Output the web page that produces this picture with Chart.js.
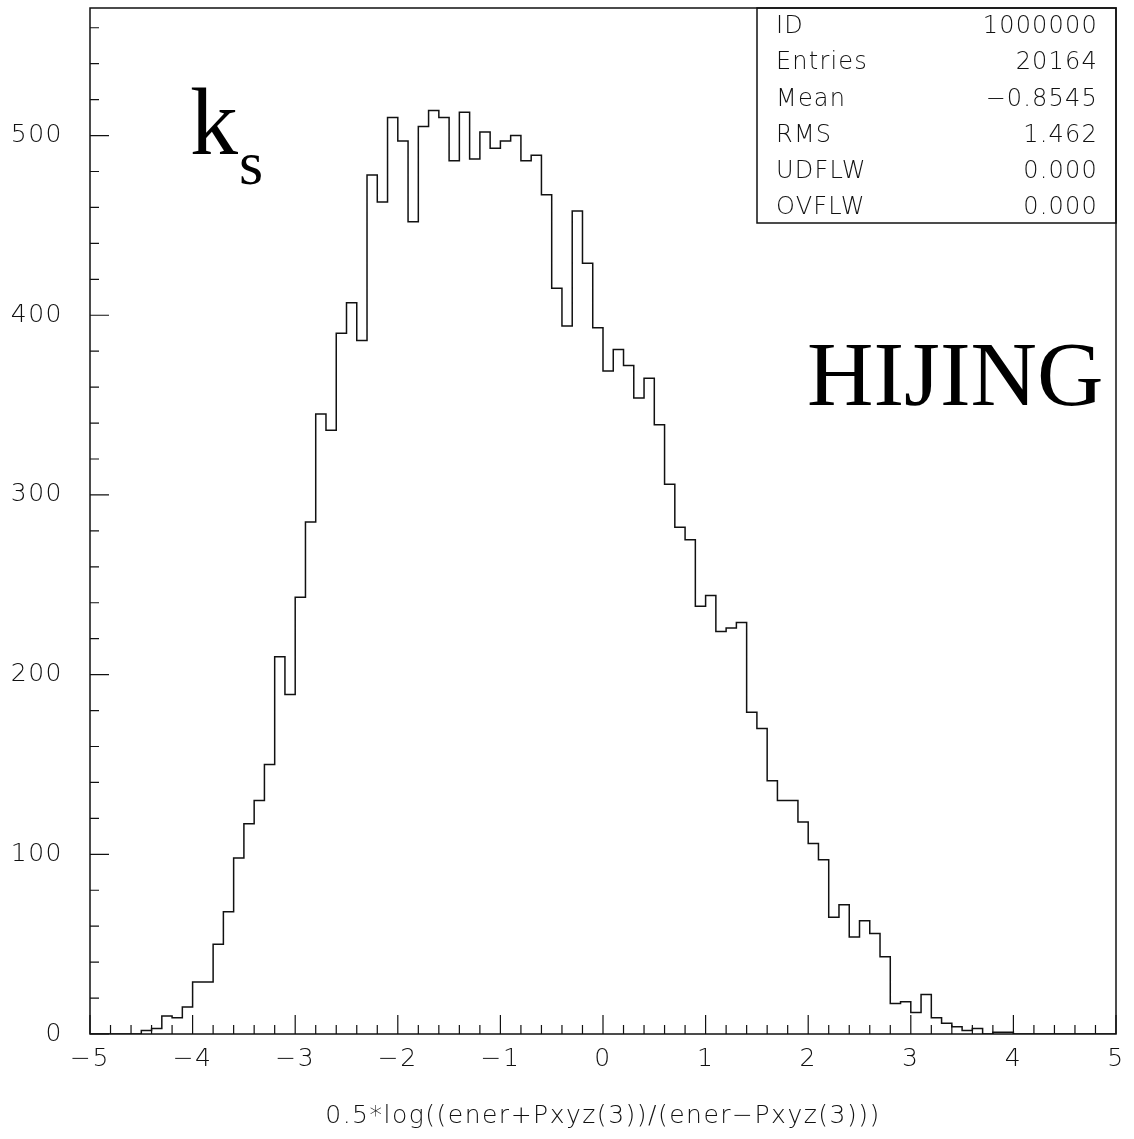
<!DOCTYPE html>
<html>
<head>
<meta charset="utf-8">
<script src="https://cdn.jsdelivr.net/npm/chart.js@4.4.0/dist/chart.umd.min.js"></script>
<style>
  html, body { margin: 0; padding: 0; background: #fff; }
  #wrap { width: 1134px; height: 1139px; }
</style>
</head>
<body>
<div id="wrap"><canvas id="histo" width="1134" height="1139"></canvas></div>
<script>
// histogram definition: 100 bins from -5 to 5
const binLow = -5;
const binWidth = 0.1;
const counts = [
  0, 0, 0, 0, 0,
  2, 3, 10, 9, 15, 29, 29, 50, 68, 98, 117, 130, 150,
  210, 189, 243, 285, 345, 336, 390, 407, 386,
  478, 463, 510, 497, 452, 505, 514, 510, 486, 513, 487, 502, 493, 497, 500, 486, 489, 467,
  415, 394, 458, 429, 393, 369, 381, 372, 354, 365, 339, 306, 282, 275,
  238, 244, 224, 226, 229, 179, 170, 141, 130, 130, 118, 106, 97,
  65, 72, 54, 63, 56, 43, 17, 18, 12, 22, 9, 6, 4, 2, 3, 0, 1, 1,
  0, 0, 0, 0, 0, 0, 0, 0, 0, 0
];
const xTicks = [-5, -4, -3, -2, -1, 0, 1, 2, 3, 4, 5];
const yTicks = [0, 100, 200, 300, 400, 500];
const yMax = 571;
const statLabels = ['ID', 'Entries', 'Mean', 'RMS', 'UDFLW', 'OVFLW'];
const statValues = ['1000000', '20164', '\u22120.8545', '1.462', '0.000', '0.000'];
const xTitle = '0.5*log((ener+Pxyz(3))/(ener\u2212Pxyz(3)))';

const sansFont = "'DejaVu Sans'";
const serifFont = "'Liberation Serif'";

// step outline: one point per bin lower edge, then close at the upper edge
const points = counts.map((c, i) => ({ x: binLow + i * binWidth, y: c }));
points.push({ x: binLow + counts.length * binWidth, y: 0 });

const fmt = v => (v < 0 ? '\u2212' + Math.abs(v) : String(v));

const pawPlugin = {
  id: 'paw',
  beforeDraw(chart) {
    // the HIGZ font is a bit wider than DejaVu
    chart.ctx.letterSpacing = '1.5px';
  },
  afterDraw(chart) {
    const { ctx, chartArea: a, scales: { x, y } } = chart;
    ctx.save();
    ctx.strokeStyle = '#111';
    ctx.lineWidth = 1.5;
    ctx.strokeRect(a.left, a.top, a.right - a.left, a.bottom - a.top);

    // inward ticks, minor every 0.2 on x and 20 on y
    ctx.beginPath();
    const xMin = xTicks[0], xMaxV = xTicks[xTicks.length - 1];
    for (let k = 0; xMin + k * 0.2 <= xMaxV + 1e-6; k++) {
      const px = x.getPixelForValue(xMin + k * 0.2);
      const len = k % 5 === 0 ? 19 : 9;
      ctx.moveTo(px, a.bottom);
      ctx.lineTo(px, a.bottom - len);
    }
    for (let k = 0; k * 20 <= yMax; k++) {
      const py = y.getPixelForValue(k * 20);
      const len = k % 5 === 0 ? 19 : 9;
      ctx.moveTo(a.left, py);
      ctx.lineTo(a.left + len, py);
    }
    ctx.lineWidth = 1.2;
    ctx.stroke();

    // statistics box
    const boxLeft = 757, boxBottom = 223;
    ctx.lineWidth = 1.5;
    ctx.strokeRect(boxLeft, a.top, a.right - boxLeft, boxBottom - a.top);
    ctx.fillStyle = '#111';
    ctx.font = '200 24px ' + sansFont;
    ctx.letterSpacing = '1.2px';
    ctx.textBaseline = 'middle';
    statLabels.forEach((lab, i) => {
      const ty = 27 + i * 36.2;
      ctx.textAlign = 'left';
      ctx.fillText(lab, 776, ty);
      ctx.textAlign = 'right';
      ctx.fillText(statValues[i], 1098, ty);
    });

    // annotations
    ctx.letterSpacing = '0px';
    ctx.textBaseline = 'alphabetic';
    ctx.textAlign = 'left';
    ctx.fillStyle = '#000';
    ctx.font = '96px ' + serifFont;
    ctx.fillText('k', 190, 154);
    ctx.font = '62px ' + serifFont;
    ctx.fillText('s', 239, 184);
    ctx.font = '92px ' + serifFont;
    ctx.fillText('HIJING', 807, 405);
    ctx.restore();
  }
};

new Chart(document.getElementById('histo').getContext('2d'), {
  type: 'line',
  data: {
    datasets: [{
      data: points,
      stepped: true,
      borderColor: '#111',
      borderWidth: 1.5,
      pointRadius: 0,
      fill: false
    }]
  },
  options: {
    responsive: false,
    maintainAspectRatio: false,
    animation: false,
    layout: { padding: { top: 8, right: 18, left: 0, bottom: 0 } },
    plugins: { legend: { display: false }, tooltip: { enabled: false } },
    scales: {
      x: {
        type: 'linear',
        min: xTicks[0],
        max: xTicks[xTicks.length - 1],
        afterFit: s => { s.height = 105; },
        grid: { display: false, drawTicks: false },
        border: { display: false },
        ticks: {
          stepSize: 1,
          autoSkip: false,
          maxRotation: 0,
          padding: 10,
          color: '#111',
          font: { family: sansFont, size: 25, weight: '200' },
          callback: v => (xTicks.includes(v) ? fmt(v) : '')
        },
        title: {
          display: true,
          text: xTitle,
          color: '#111',
          font: { family: sansFont, size: 25, weight: '200' },
          padding: { top: 0, bottom: 8 }
        }
      },
      y: {
        min: 0,
        max: yMax,
        afterFit: s => { s.width = 90; s.paddingTop = 0; s.paddingBottom = 0; },
        grid: { display: false, drawTicks: false },
        border: { display: false },
        ticks: {
          stepSize: 100,
          includeBounds: false,
          padding: 27,
          color: '#111',
          font: { family: sansFont, size: 25, weight: '200' },
          callback: v => (yTicks.includes(v) ? String(v) : '')
        }
      }
    }
  },
  plugins: [pawPlugin]
});
</script>
</body>
</html>
